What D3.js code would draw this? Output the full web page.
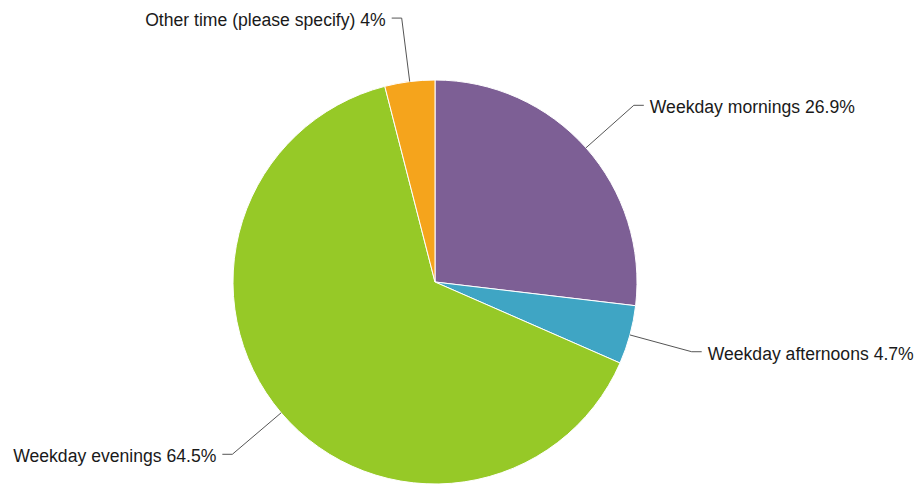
<!DOCTYPE html>
<html><head><meta charset="utf-8">
<script src="https://cdn.jsdelivr.net/npm/d3@7"></script>
<style>html,body{margin:0;padding:0;background:#fff;}svg{display:block;}</style>
</head><body>
<svg id="chart" width="922" height="485"></svg>
<script>
const categories = ["Weekday mornings", "Weekday afternoons", "Weekday evenings", "Other time (please specify)"];
const values = [26.9, 4.7, 64.5, 4];
const labels = ["26.9%", "4.7%", "64.5%", "4%"];
const colors = ["#7d5f95", "#3fa5c4", "#96c927", "#f5a41c"];

const W = 922, H = 485;
const cx = 435, cy = 282, r = 202;
const svg = d3.select("#chart");
const g = svg.append("g").attr("transform", `translate(${cx},${cy})`);

const data = categories.map((c, i) => ({name: c, value: values[i], label: labels[i], color: colors[i]}));
const pie = d3.pie().value(d => d.value).sort(null);
const arcs = pie(data);
const arc = d3.arc().innerRadius(0).outerRadius(r);

g.selectAll("path.slice").data(arcs).join("path")
  .attr("class", "slice")
  .attr("d", arc)
  .attr("fill", d => d.data.color)
  .attr("stroke", "#fff")
  .attr("stroke-width", 1)
  .attr("stroke-linejoin", "round");

const bendR = r + 64;
arcs.forEach(a => {
  const mid = (a.startAngle + a.endAngle) / 2;
  const sx = Math.sin(mid), sy = -Math.cos(mid);
  const right = sx >= 0;
  const p0 = [sx * r, sy * r];
  const p1 = [sx * bendR, sy * bendR];
  const p2 = [p1[0] + (right ? 10 : -10), p1[1]];
  g.append("path")
    .attr("d", d3.line()([p0, p1, p2]))
    .attr("fill", "none")
    .attr("stroke", "#555")
    .attr("stroke-width", 1);
  g.append("text")
    .attr("x", p2[0] + (right ? 6 : -6))
    .attr("y", p2[1] + 2)
    .attr("dominant-baseline", "central")
    .attr("text-anchor", right ? "start" : "end")
    .attr("font-family", "'Liberation Sans', Arial, Helvetica, sans-serif")
    .attr("font-size", 17.6)
    .attr("fill", "#1a1a1a")
    .text(a.data.name + " " + a.data.label);
});
</script>
</body></html>
